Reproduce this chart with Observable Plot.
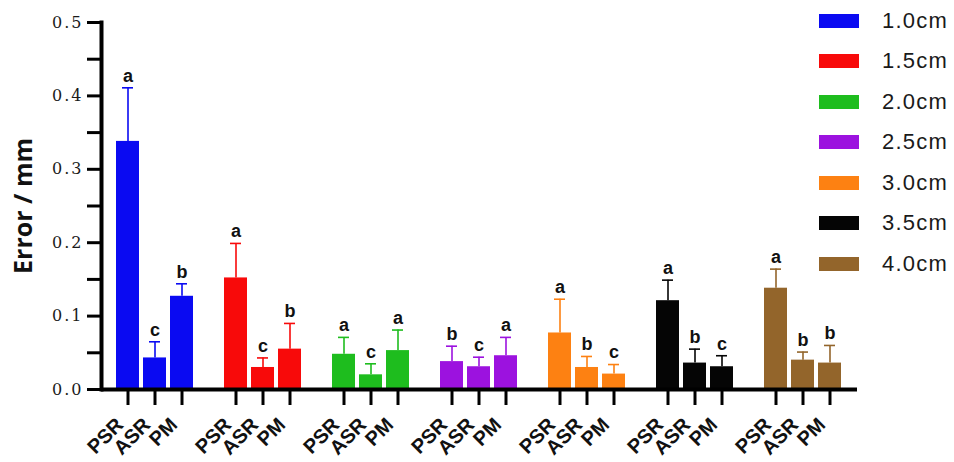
<!DOCTYPE html>
<html><head><meta charset="utf-8">
<script src="https://cdn.jsdelivr.net/npm/d3@7"></script>
<script src="https://cdn.jsdelivr.net/npm/@observablehq/plot@0.6"></script>
<style>
body{margin:0;background:#fff;}
#wrap{position:relative;width:954px;height:462px;overflow:hidden;}
#legend{position:absolute;left:819px;top:0;font-family:"Liberation Sans",Arial,sans-serif;font-size:22px;color:#1a1a1a;letter-spacing:1.2px;}
.row{position:absolute;left:0;height:20px;display:flex;align-items:center;white-space:nowrap;}
.sw{width:40px;height:14px;margin-right:23px;}
svg g[aria-label="y-axis tick label"] text{letter-spacing:2px;}
svg g[aria-label="ylabel"] text{letter-spacing:1.5px;}
</style></head><body><div id="wrap"><div id="legend"></div></div>
<script>
const groups = ["1.0cm","1.5cm","2.0cm","2.5cm","3.0cm","3.5cm","4.0cm"];
const methods = ["PSR","ASR","PM"];
const colors = ["#0a0af2","#f80a0a","#1ebd1e","#9c12df","#fd8112","#050505","#93652b"];

const meanPSR = [0.338, 0.152, 0.048, 0.038, 0.077, 0.121, 0.138];
const sdPSR   = [0.073, 0.047, 0.023, 0.021, 0.046, 0.028, 0.026];
const letterPSR = ["a","a","a","b","a","a","a"];

const meanASR = [0.043, 0.030, 0.020, 0.031, 0.030, 0.036, 0.040];
const sdASR   = [0.022, 0.013, 0.015, 0.013, 0.015, 0.019, 0.011];
const letterASR = ["c","c","c","c","b","b","b"];

const meanPM = [0.127, 0.055, 0.053, 0.046, 0.021, 0.031, 0.036];
const sdPM   = [0.017, 0.035, 0.028, 0.025, 0.013, 0.015, 0.024];
const letterPM = ["b","b","a","a","c","c","b"];

const yTicks = [0, 0.05, 0.1, 0.15, 0.2, 0.25, 0.3, 0.35, 0.4, 0.45, 0.5];
const yTickLabels = ["0.0","","0.1","","0.2","","0.3","","0.4","","0.5"];
const yLabel = "Error / mm";

const series = {PSR: [meanPSR, sdPSR, letterPSR], ASR: [meanASR, sdASR, letterASR], PM: [meanPM, sdPM, letterPM]};
const data = [];
groups.forEach((g, i) => methods.forEach(m => {
  const [mv, sv, lv] = series[m];
  data.push({group: g, method: m, mean: mv[i], top: mv[i] + sv[i], letter: lv[i]});
}));

const plot = Plot.plot({
  width: 954, height: 462,
  marginLeft: 98, marginRight: 94, marginTop: 22, marginBottom: 73,
  fx: {domain: groups, padding: 0, axis: null, label: null},
  x: {domain: methods, paddingInner: 0.14, paddingOuter: 0.5, axis: null, label: null},
  y: {domain: [0, 0.5], axis: null, label: null},
  color: {domain: groups, range: colors},
  facet: {data: data, x: "group"},
  marks: [
    Plot.barY(data, {x: "method", y: "mean", fill: "group"}),
    Plot.ruleX(data, {x: "method", y1: "mean", y2: "top", stroke: "group", strokeWidth: 1.6}),
    Plot.tickY(data, {x: "method", y: "top", stroke: "group", strokeWidth: 1.6, insetLeft: 6, insetRight: 6}),
    Plot.text(data, {x: "method", y: "top", text: "letter", dy: -12, fontSize: 18, fontWeight: "bold", fill: "#111", fontFamily: "Liberation Sans, Arial, sans-serif"}),
    Plot.axisY(yTicks, {anchor: "left", tickSize: 14, tickPadding: 4, strokeWidth: 3, stroke: "#000",
      tickFormat: d => yTickLabels[yTicks.indexOf(d)] ?? "", label: null,
      fontFamily: "DejaVu Serif, serif", fontSize: 16, fill: "#1a1a1a", facetAnchor: "left"}),
    Plot.frame({anchor: "left", stroke: "#000", strokeWidth: 4, facetAnchor: "left"}),
    Plot.axisX(methods, {anchor: "bottom", tickSize: 16, strokeWidth: 3, stroke: "#000", text: null, label: null}),
    Plot.axisX(methods, {anchor: "bottom", tickSize: 0, tickPadding: 32, tickRotate: -45, label: null,
      fontFamily: "Liberation Sans, Arial, sans-serif", fontSize: 20, fontWeight: "bold", fill: "#111", dx: -8, dy: 0}),
    Plot.ruleY([0], {strokeWidth: 4, stroke: "#000"}),
    Plot.text([yLabel], {frameAnchor: "left", textAnchor: "middle", rotate: -90, dx: -78, fontFamily: "Open Sans, sans-serif", fontSize: 25,
      fontWeight: "bold", fill: "#111", facetAnchor: "left", ariaLabel: "ylabel"})
  ]
});
document.getElementById("wrap").prepend(plot);
plot.style.position = "absolute"; plot.style.left = "0"; plot.style.top = "0";

const legend = document.getElementById("legend");
groups.forEach((g, i) => {
  const row = document.createElement("div");
  row.className = "row";
  row.style.top = (10.5 + i * 40.5) + "px";
  const sw = document.createElement("div");
  sw.className = "sw"; sw.style.background = colors[i];
  const t = document.createElement("span"); t.textContent = g;
  row.append(sw, t); legend.append(row);
});
</script></body></html>
